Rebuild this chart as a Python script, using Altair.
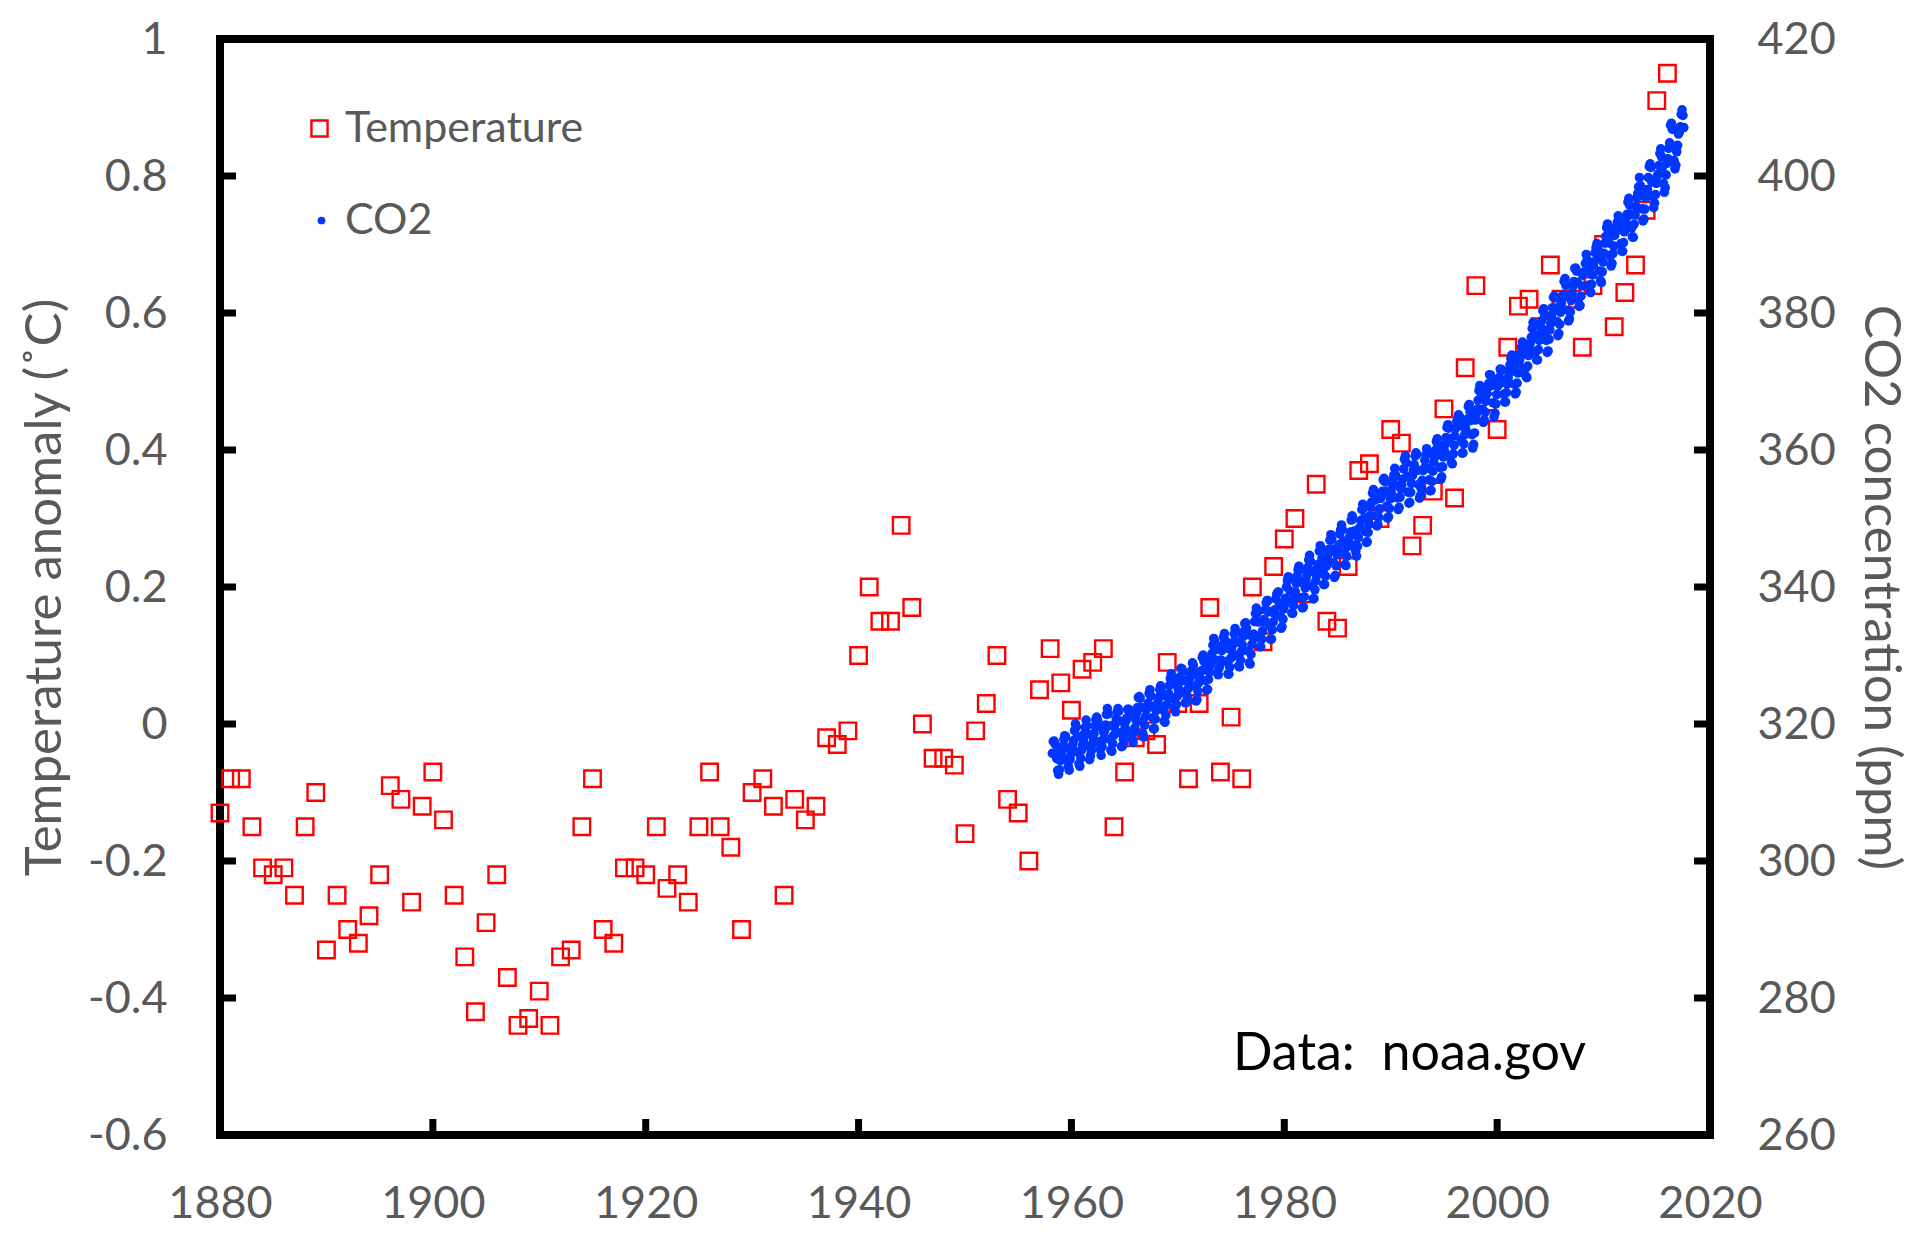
import altair as alt
import pandas as pd

# ---------------- data ----------------
TEMP_YEARS = list(range(1880, 2017))
TEMP_ANOMALY = [
    -0.13, -0.08, -0.08, -0.15, -0.21, -0.22, -0.21, -0.25, -0.15, -0.10,   # 1880s
    -0.33, -0.25, -0.30, -0.32, -0.28, -0.22, -0.09, -0.11, -0.26, -0.12,   # 1890s
    -0.07, -0.14, -0.25, -0.34, -0.42, -0.29, -0.22, -0.37, -0.44, -0.43,   # 1900s
    -0.39, -0.44, -0.34, -0.33, -0.15, -0.08, -0.30, -0.32, -0.21, -0.21,   # 1910s
    -0.22, -0.15, -0.24, -0.22, -0.26, -0.15, -0.07, -0.15, -0.18, -0.30,   # 1920s
    -0.10, -0.08, -0.12, -0.25, -0.11, -0.14, -0.12, -0.02, -0.03, -0.01,   # 1930s
    0.10, 0.20, 0.15, 0.15, 0.29, 0.17, 0.00, -0.05, -0.05, -0.06,          # 1940s
    -0.16, -0.01, 0.03, 0.10, -0.11, -0.13, -0.20, 0.05, 0.11, 0.06,        # 1950s
    0.02, 0.08, 0.09, 0.11, -0.15, -0.07, -0.02, -0.01, -0.03, 0.09,        # 1960s
    0.03, -0.08, 0.03, 0.17, -0.07, 0.01, -0.08, 0.20, 0.12, 0.23,          # 1970s
    0.27, 0.30, 0.19, 0.35, 0.15, 0.14, 0.23, 0.37, 0.38, 0.30,             # 1980s
    0.43, 0.41, 0.26, 0.29, 0.34, 0.46, 0.33, 0.52, 0.64, 0.47,             # 1990s
    0.43, 0.55, 0.61, 0.62, 0.58, 0.67, 0.62, 0.62, 0.55, 0.64,             # 2000s
    0.70, 0.58, 0.63, 0.67, 0.75, 0.91, 0.95,                               # 2010s
]

CO2_FIRST_YEAR = 1958
CO2_FIRST_MONTH = 3
CO2_MONTHLY = [
    [315.71, 317.45, 317.50, 317.10, 315.86, 314.93, 313.20, 312.66, 313.33, 314.67],  # 1958 (Mar-Dec)
    [315.62, 316.38, 316.71, 317.72, 318.29, 318.15, 316.54, 314.80, 313.84, 313.26, 314.80, 315.58],
    [316.43, 316.97, 317.58, 319.02, 320.03, 319.59, 318.18, 315.91, 314.16, 313.83, 315.00, 316.19],
    [316.93, 317.70, 318.54, 319.48, 320.58, 319.77, 318.57, 316.79, 314.80, 315.38, 316.10, 317.01],
    [317.94, 318.56, 319.68, 320.63, 321.01, 320.55, 319.58, 317.40, 316.26, 315.42, 316.69, 317.69],
    [318.74, 319.08, 319.86, 321.39, 322.25, 321.47, 319.74, 317.77, 316.21, 315.99, 317.12, 318.31],
    [319.57, 320.07, 320.73, 321.77, 322.25, 321.89, 320.44, 318.70, 316.70, 316.79, 317.79, 318.71],
    [319.44, 320.44, 320.89, 322.13, 322.16, 321.87, 321.39, 318.81, 317.81, 317.30, 318.87, 319.42],
    [320.62, 321.59, 322.39, 323.87, 324.01, 323.75, 322.39, 320.37, 318.64, 318.10, 319.79, 321.08],
    [322.07, 322.50, 323.04, 324.42, 325.00, 324.09, 322.55, 320.92, 319.31, 319.31, 320.72, 321.96],
    [322.57, 323.15, 323.89, 325.02, 325.57, 325.36, 324.14, 322.03, 320.41, 320.25, 321.31, 322.84],
    [324.00, 324.42, 325.64, 326.66, 327.34, 326.76, 325.88, 323.67, 322.38, 321.78, 322.85, 324.11],
    [325.03, 325.99, 326.87, 328.13, 328.07, 327.66, 326.35, 324.69, 323.10, 323.16, 323.98, 325.13],
    [326.17, 326.68, 327.18, 327.78, 328.92, 328.57, 327.34, 325.46, 323.36, 323.57, 324.80, 326.01],
    [326.77, 327.63, 327.75, 329.72, 330.07, 329.09, 328.05, 326.32, 324.93, 325.06, 326.50, 327.55],
    [328.54, 329.56, 330.30, 331.50, 332.48, 332.07, 330.87, 329.31, 327.51, 327.18, 328.16, 328.64],
    [329.35, 330.71, 331.48, 332.65, 333.19, 332.16, 331.07, 329.12, 327.32, 327.28, 328.30, 329.58],
    [330.73, 331.46, 331.90, 333.17, 333.94, 333.45, 331.97, 329.95, 328.50, 328.34, 329.37, 330.58],
    [331.59, 332.75, 333.52, 334.64, 334.77, 334.00, 333.06, 330.68, 328.95, 328.75, 330.15, 331.62],
    [332.66, 333.13, 334.95, 336.13, 336.93, 336.17, 334.88, 332.56, 331.29, 331.27, 332.41, 333.60],
    [334.95, 335.25, 336.66, 337.69, 338.03, 338.01, 336.41, 334.41, 332.37, 332.41, 333.75, 334.90],
    [336.14, 336.69, 338.27, 338.95, 339.21, 339.26, 337.54, 335.75, 333.98, 334.19, 335.31, 336.81],
    [337.90, 338.34, 340.01, 340.93, 341.48, 341.33, 339.40, 337.70, 336.19, 336.15, 337.27, 338.32],
    [339.29, 340.55, 341.62, 342.53, 343.03, 342.54, 340.78, 338.44, 336.95, 337.08, 338.58, 339.88],
    [340.96, 341.73, 342.81, 343.97, 344.63, 343.79, 342.32, 340.09, 338.28, 338.29, 339.60, 340.90],
    [341.68, 342.90, 343.33, 345.25, 346.03, 345.63, 344.19, 342.27, 340.35, 340.38, 341.59, 343.05],
    [344.10, 344.79, 345.52, 346.84, 347.63, 346.98, 345.53, 343.55, 341.40, 341.67, 343.10, 344.70],
    [345.21, 346.16, 347.74, 348.34, 349.06, 348.38, 346.72, 345.02, 343.27, 343.13, 344.49, 345.88],
    [346.56, 347.28, 348.01, 349.77, 350.38, 349.93, 348.16, 346.08, 345.22, 344.51, 345.93, 347.22],
    [348.52, 348.73, 349.73, 351.31, 352.09, 351.53, 350.11, 348.08, 346.52, 346.59, 347.96, 349.16],
    [350.39, 351.64, 352.40, 353.69, 354.21, 353.72, 352.69, 350.40, 348.92, 349.13, 350.20, 351.41],
    [352.91, 353.27, 353.96, 355.64, 355.86, 355.37, 353.99, 351.81, 350.05, 350.25, 351.49, 352.85],
    [353.80, 355.04, 355.73, 356.32, 357.32, 356.34, 354.84, 353.01, 351.31, 351.62, 353.07, 354.33],
    [354.84, 355.73, 357.23, 358.66, 359.13, 358.13, 356.19, 353.85, 352.25, 352.35, 353.81, 355.12],
    [356.25, 357.11, 357.86, 359.09, 359.59, 359.33, 357.01, 354.94, 352.96, 353.32, 354.32, 355.57],
    [357.00, 357.31, 358.47, 359.27, 360.19, 359.52, 357.33, 355.64, 354.03, 354.12, 355.41, 356.91],
    [358.24, 358.92, 359.99, 361.23, 361.65, 360.81, 359.38, 357.46, 355.73, 356.08, 357.53, 358.98],
    [359.92, 360.86, 361.83, 363.30, 363.69, 363.19, 361.64, 359.12, 358.17, 357.99, 359.45, 360.68],
    [362.07, 363.24, 364.17, 364.57, 365.13, 364.92, 363.55, 361.38, 359.54, 359.58, 360.89, 362.24],
    [363.09, 364.03, 364.51, 366.35, 366.64, 365.59, 364.31, 362.25, 360.29, 360.82, 362.49, 364.38],
    [365.26, 365.98, 367.24, 368.66, 369.42, 368.99, 367.82, 365.95, 364.02, 364.40, 365.52, 367.13],
    [368.18, 369.07, 369.68, 370.99, 370.96, 370.30, 369.45, 366.90, 364.81, 365.37, 366.72, 368.10],
    [369.29, 369.54, 370.60, 371.82, 371.58, 371.70, 369.86, 368.13, 367.00, 367.03, 368.37, 369.67],
    [370.59, 371.51, 372.43, 373.37, 373.85, 373.21, 371.51, 369.61, 368.18, 368.45, 369.76, 371.24],
    [372.53, 373.20, 374.12, 375.02, 375.76, 375.52, 374.01, 371.85, 370.75, 370.55, 372.25, 373.79],
    [374.88, 375.64, 376.45, 377.73, 378.60, 378.28, 376.70, 374.38, 373.17, 373.15, 374.66, 375.99],
    [377.00, 377.87, 378.88, 380.35, 380.62, 379.69, 377.47, 376.01, 374.25, 374.46, 376.16, 377.51],
    [378.46, 379.73, 380.77, 382.29, 382.45, 382.21, 380.74, 378.74, 376.70, 377.00, 378.35, 380.11],
    [381.38, 382.19, 382.67, 384.61, 385.03, 384.05, 382.46, 380.41, 378.85, 379.13, 380.15, 381.82],
    [382.89, 383.90, 384.58, 386.50, 386.56, 386.10, 384.50, 381.99, 380.96, 381.12, 382.45, 383.95],
    [385.52, 385.82, 386.03, 387.21, 388.54, 387.76, 386.36, 384.09, 383.18, 382.99, 384.19, 385.56],
    [386.94, 387.48, 388.82, 389.55, 390.14, 389.48, 388.03, 386.11, 384.74, 384.43, 386.02, 387.42],
    [388.71, 390.20, 391.17, 392.46, 393.00, 392.15, 390.20, 388.35, 386.85, 387.24, 388.67, 389.79],
    [391.33, 391.86, 392.60, 393.25, 394.19, 393.74, 392.51, 390.13, 389.08, 389.00, 390.28, 391.86],
    [393.12, 393.86, 394.40, 396.18, 396.74, 395.71, 394.36, 392.39, 391.11, 391.05, 392.98, 394.34],
    [395.55, 396.80, 397.43, 398.41, 399.78, 398.60, 397.32, 395.20, 393.45, 393.70, 395.16, 396.84],
    [397.85, 398.01, 399.77, 401.38, 401.78, 401.25, 399.10, 397.03, 395.38, 396.03, 397.28, 398.91],
    [399.98, 400.28, 401.54, 403.28, 403.96, 402.80, 401.31, 398.93, 397.63, 398.29, 400.16, 401.85],
    [402.52, 404.04, 404.83, 407.42, 407.70, 406.81, 404.39, 402.25, 401.03, 401.57, 403.53, 404.48],
    [406.13, 406.42, 407.18, 409.00, 409.65, 408.84, 407.07],                           # 2017 (Jan-Jul)
]

X_TICKS = [1880, 1900, 1920, 1940, 1960, 1980, 2000, 2020]
TEMP_TICKS = [-0.6, -0.4, -0.2, 0, 0.2, 0.4, 0.6, 0.8, 1]
CO2_TICKS = [260, 280, 300, 320, 340, 360, 380, 400, 420]
SERIES = ["Temperature", "CO2"]
LEFT_TITLE = "Temperature anomaly (˚C)"
RIGHT_TITLE = "CO2 concentration (ppm)"
NOTE = "Data:\u00a0 noaa.gov"

# ---------------- tables ----------------
temp_df = pd.DataFrame({"year": TEMP_YEARS, "temp": TEMP_ANOMALY, "series": SERIES[0]})

co2_rows = []
for i, row in enumerate(CO2_MONTHLY):
    yr = CO2_FIRST_YEAR + i
    m0 = CO2_FIRST_MONTH if i == 0 else 1
    for j, v in enumerate(row):
        co2_rows.append({"year": yr + (m0 + j - 0.5) / 12.0, "co2": v, "series": SERIES[1]})
co2_df = pd.DataFrame(co2_rows)

xtick_df = pd.DataFrame({"year": X_TICKS[1:-1]})
ttick_df = pd.DataFrame({"temp": TEMP_TICKS[1:-1]})
ctick_df = pd.DataFrame({"co2": CO2_TICKS[1:-1]})
note_df = pd.DataFrame({"note": [NOTE]})

# ---------------- styling ----------------
W, H = 1490, 1096
FONT = "Lato"
GRAY = "#595959"
RED = "#ff0000"
BLUE = "#0036ff"
TICK_LEN = 16
TICK_W = 7
LABEL_SIZE = 45
TITLE_SIZE = 51
LEGEND_SIZE = 43

x_scale = alt.Scale(domain=[1880, 2020], nice=False, zero=False)
t_scale = alt.Scale(domain=[-0.6, 1], nice=False, zero=False)
c_scale = alt.Scale(domain=[260, 420], nice=False, zero=False)

x_axis = alt.Axis(values=X_TICKS, format="d", ticks=False, tickSize=0, domain=False, grid=False,
                  labelFont=FONT, labelFontSize=LABEL_SIZE, labelColor=GRAY, labelPadding=46,
                  labelFlush=False, labelOverlap=False, title=None)
t_axis = alt.Axis(values=TEMP_TICKS, labelExpr="replace(format(datum.value, '~g'), '−', '-')",
                  ticks=False, tickSize=0, domain=False, grid=False,
                  labelFont=FONT, labelFontSize=LABEL_SIZE, labelColor=GRAY, labelPadding=53,
                  labelOverlap=False, labelFlush=False,
                  title=LEFT_TITLE, titleFont=FONT, titleFontSize=TITLE_SIZE, titleFontWeight="normal",
                  titleColor=GRAY, titleX=-175, titleY=H / 2, titleAngle=-90,
                  titleAlign="center", titleBaseline="middle")
c_axis = alt.Axis(orient="right", values=CO2_TICKS, format="d",
                  ticks=False, tickSize=0, domain=False, grid=False,
                  labelFont=FONT, labelFontSize=LABEL_SIZE, labelColor=GRAY, labelPadding=47,
                  labelOverlap=False, labelFlush=False,
                  title=RIGHT_TITLE, titleFont=FONT, titleFontSize=TITLE_SIZE, titleFontWeight="normal",
                  titleColor=GRAY, titleX=169, titleY=H / 2, titleAngle=90,
                  titleAlign="center", titleBaseline="middle")

X = alt.X("year:Q", scale=x_scale, axis=x_axis)
YT = alt.Y("temp:Q", scale=t_scale, axis=t_axis)
YC = alt.Y("co2:Q", scale=c_scale, axis=c_axis)

temp_pts = alt.Chart(temp_df).mark_point(
    shape="square", filled=False, size=272, strokeWidth=2.4, opacity=1
).encode(
    x=X, y=YT,
    stroke=alt.Stroke("series:N", scale=alt.Scale(domain=[SERIES[0]], range=[RED]),
                      legend=alt.Legend(orient="none", legendX=78, legendY=68, padding=0,
                                        title=None, symbolType="square", symbolSize=260,
                                        symbolStrokeWidth=2.4, symbolFillColor="transparent",
                                        labelFont=FONT, labelFontSize=LEGEND_SIZE, labelColor=GRAY,
                                        labelLimit=0, labelOffset=4)),
)

left_ticks = alt.Chart(ttick_df).mark_rule(color="black", strokeWidth=TICK_W).encode(
    y=YT, x=alt.value(0), x2=alt.value(TICK_LEN))
bottom_ticks = alt.Chart(xtick_df).mark_rule(color="black", strokeWidth=TICK_W).encode(
    x=X, y=alt.value(H - TICK_LEN), y2=alt.value(H))
note = alt.Chart(note_df).mark_text(
    align="left", baseline="alphabetic", font=FONT, fontSize=52, color="black"
).encode(text="note:N", x=alt.value(1013), y=alt.value(1031))

left_group = alt.layer(temp_pts, left_ticks, bottom_ticks, note)

co2_pts = alt.Chart(co2_df).mark_circle(size=92, opacity=1).encode(
    x=X, y=YC,
    fill=alt.Fill("series:N", scale=alt.Scale(domain=[SERIES[1]], range=[BLUE]),
                  legend=alt.Legend(orient="none", legendX=80, legendY=160, padding=0,
                                    title=None, symbolType="circle", symbolSize=60,
                                    labelFont=FONT, labelFontSize=LEGEND_SIZE, labelColor=GRAY,
                                    labelLimit=0, labelOffset=2)),
)
right_ticks = alt.Chart(ctick_df).mark_rule(color="black", strokeWidth=TICK_W).encode(
    y=YC, x=alt.value(W - TICK_LEN), x2=alt.value(W))

right_group = alt.layer(co2_pts, right_ticks)

chart = alt.layer(left_group, right_group).resolve_scale(y="independent").properties(
    width=W, height=H,
    autosize=alt.AutoSizeParams(type="none"),
    padding={"left": 212, "top": 31, "right": 205, "bottom": 91},
).configure_view(stroke="black", strokeWidth=8)

chart.save("out.html", embed_options={"renderer": "svg", "actions": False})
